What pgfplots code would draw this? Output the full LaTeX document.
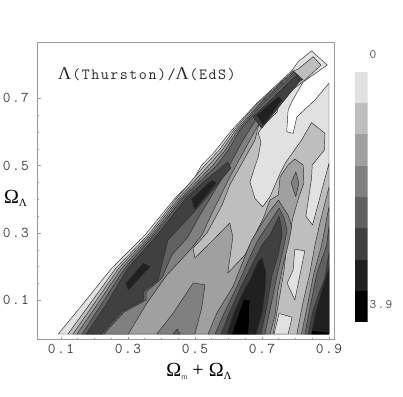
\documentclass[border=0pt]{standalone}
\usepackage{fontspec}
\setmainfont{Liberation Serif}
\newfontfamily\tickf[LetterSpace=10]{Latin Modern Mono}
\usepackage{pgfplots}
\pgfplotsset{compat=1.18}
\definecolor{c1}{HTML}{E1E1E1}
\definecolor{c2}{HTML}{BEBEBE}
\definecolor{c3}{HTML}{A0A0A0}
\definecolor{c4}{HTML}{808080}
\definecolor{c5}{HTML}{606060}
\definecolor{c6}{HTML}{404040}
\definecolor{c7}{HTML}{202020}
\definecolor{c8}{HTML}{000000}
\definecolor{lc}{HTML}{2A2A2A}
\definecolor{fr}{HTML}{9A9A9A}
\newcommand\poly[2]{\addplot[fill=#1,draw=lc,line width=.45pt,line join=round,mark=none] coordinates {#2} --cycle;}
\newcommand\band[2]{\addplot[fill=#1,draw=none,mark=none] coordinates {#2} --cycle;}
\begin{document}
\begin{tikzpicture}
\path[use as bounding box] (-37.5pt,-56.5pt) rectangle (365.5pt,339.5pt);
\begin{axis}[
 at={(0pt,0pt)},anchor=south west,scale only axis,width=296.5pt,height=297pt,
 xmin=.03,xmax=.915,ymin=-.0163,ymax=.866,
 xtick={.1,.3,.5,.7,.9},xticklabels={0.1,0.3,0.5,0.7,0.9},
 ytick={.1,.3,.5,.7},yticklabels={0.1,0.3,0.5,0.7},
 minor tick num=3,tick align=inside,xtick pos=bottom,ytick pos=left,
 major tick length=3pt,minor tick length=1.8pt,
 tick style={color=fr,line width=.6pt},
 axis line style={color=fr,line width=.9pt},
 tick label style={font=\tickf\fontsize{15}{15}\selectfont,text=black!75},
 xticklabel style={yshift=-1pt},
 yticklabel style={xshift=-5pt},
 clip=false]
% lightest
\poly{c1}{(.092,0)(.167,.091)(.251,.195)(.351,.294)(.440,.403)(.495,.457)(.520,.502)(.555,.537)(.610,.606)(.684,.685)(.789,.782)(.808,.809)(.848,.841)(.895,.799)(.823,.749)(.789,.690)(.778,.665)(.774,.601)(.793,.596)(.804,.645)(.858,.695)(.900,.745)(.900,0)}
% level 2
\poly{c2}{(.121,0)(.184,.086)(.264,.196)(.360,.294)(.446,.404)(.530,.502)(.572,.546)(.616,.606)(.688,.686)(.793,.781)(.808,.787)(.853,.824)(.876,.799)(.828,.754)(.784,.720)(.754,.695)(.745,.659)(.700,.615)(.689,.596)(.697,.570)(.689,.527)(.664,.452)(.679,.403)(.702,.378)(.724,.408)(.754,.477)(.769,.507)(.818,.576)(.848,.628)(.888,.596)(.886,.546)(.850,.502)(.848,.462)(.831,.350)(.851,.324)(.900,.507)(.900,0)}
\poly{c1}{(.798,.252)(.828,.247)(.798,.101)(.775,.151)(.793,.190)}
\poly{c1}{(.751,.061)(.790,.050)(.778,0)(.736,0)}
% level 3
\poly{c3}{(.136,0)(.196,.086)(.273,.196)(.366,.294)(.452,.404)(.542,.502)(.581,.546)(.622,.606)(.694,.686)(.794,.781)(.822,.756)(.775,.728)(.745,.704)(.733,.665)(.691,.624)(.679,.576)(.604,.443)(.581,.383)(.536,.300)(.494,.255)(.500,.226)(.554,.279)(.604,.330)(.613,.288)(.598,.181)(.649,.235)(.679,.294)(.704,.344)(.724,.398)(.749,.413)(.754,.467)(.778,.502)(.798,.520)(.823,.502)(.825,.448)(.808,.400)(.793,.348)(.774,.264)(.766,.190)(.751,.101)(.733,0)}
\poly{c3}{(.804,0)(.822,.092)(.843,.181)(.858,.264)(.873,.330)(.900,.437)(.900,0)}
\poly{c4}{(.818,0)(.837,.092)(.855,.181)(.878,.264)(.900,.378)(.900,0)}
\poly{c5}{(.828,0)(.846,.092)(.864,.181)(.893,.264)(.900,.319)(.900,0)}
\poly{c6}{(.838,0)(.852,.068)(.868,.116)(.888,.166)(.900,.241)(.900,0)}
\poly{c7}{(.848,0)(.861,.066)(.878,.126)(.900,.196)(.900,0)}
\band{c8}{(.849,.009)(.900,.003)(.900,0)(.849,0)}
\poly{c4}{(.801,.482)(.810,.448)(.801,.408)(.787,.449)}
\poly{c4}{(.386,0)(.435,.062)(.495,.152)(.530,.146)(.520,.077)(.500,0)}
\poly{c5}{(.435,0)(.447,.015)(.455,0)}
% valley
\poly{c4}{(.539,0)(.565,.062)(.613,.140)(.649,.230)(.669,.279)(.719,.359)(.749,.398)(.778,.353)(.789,.319)(.778,.264)(.763,.205)(.748,.131)(.739,.056)(.724,0)}
\poly{c5}{(.560,0)(.587,.062)(.625,.140)(.664,.229)(.688,.279)(.724,.333)(.751,.374)(.766,.345)(.775,.309)(.763,.249)(.745,.175)(.727,.086)(.709,0)}
\poly{c6}{(.578,0)(.602,.062)(.637,.140)(.670,.205)(.700,.264)(.724,.294)(.751,.350)(.757,.324)(.760,.294)(.748,.235)(.730,.175)(.715,.086)(.697,0)}
\poly{c7}{(.596,0)(.616,.062)(.643,.122)(.667,.166)(.688,.214)(.700,.226)(.712,.184)(.709,.131)(.700,.062)(.682,0)}
\poly{c8}{(.610,0)(.644,.101)(.664,.101)(.660,0)}
% ridge
\poly{c4}{(.148,0)(.207,.086)(.282,.196)(.372,.294)(.458,.404)(.554,.502)(.590,.546)(.628,.606)(.697,.686)(.795,.778)(.819,.757)(.769,.731)(.730,.680)(.700,.641)(.664,.576)(.604,.466)(.551,.359)(.521,.294)(.485,.249)(.416,.175)(.356,.091)(.301,0)}
\poly{c5}{(.163,0)(.219,.086)(.291,.196)(.378,.294)(.464,.404)(.566,.502)(.599,.546)(.634,.606)(.703,.686)(.798,.775)(.816,.756)(.754,.719)(.718,.680)(.682,.636)(.643,.576)(.604,.502)(.560,.428)(.515,.353)(.479,.288)(.431,.235)(.401,.166)(.354,.125)(.354,.101)(.288,.065)(.228,0)}
\poly{c6}{(.175,0)(.234,.086)(.300,.196)(.387,.294)(.473,.404)(.521,.448)(.598,.511)(.607,.493)(.566,.443)(.494,.359)(.419,.279)(.390,.160)(.346,.126)(.346,.101)(.281,.066)(.221,0)}
\poly{c6}{(.674,.645)(.803,.769)(.815,.754)(.699,.611)}
\poly{c7}{(.749,.705)(.759,.695)(.704,.621)(.684,.650)}
\poly{c7}{(.550,.457)(.563,.448)(.500,.371)(.490,.400)}
\poly{c7}{(.346,.210)(.366,.200)(.301,.131)(.294,.151)}
\end{axis}
\begin{axis}[at={(317pt,17.5pt)},anchor=south west,scale only axis,width=13pt,height=250pt,
 xmin=0,xmax=1,ymin=0,ymax=8,hide axis]
\band{c1}{(0,7)(1,7)(1,8)(0,8)}
\band{c2}{(0,6)(1,6)(1,7)(0,7)}
\band{c3}{(0,5)(1,5)(1,6)(0,6)}
\band{c4}{(0,4)(1,4)(1,5)(0,5)}
\band{c5}{(0,3)(1,3)(1,4)(0,4)}
\band{c6}{(0,2)(1,2)(1,3)(0,3)}
\band{c7}{(0,1)(1,1)(1,2)(0,2)}
\band{c8}{(0,0)(1,0)(1,1)(0,1)}
\end{axis}
\node[text=black!70,font=\tickf\fontsize{13}{13}\selectfont] at (335.5pt,284.5pt) {0};
\node[text=black!70,font=\tickf\fontsize{13}{13}\selectfont] at (343.5pt,34.5pt) {3.9};
\node[anchor=west,inner sep=0pt,text=black!85] at (20.5pt,265pt) {\fontsize{18}{18}\selectfont Λ\hspace{1pt}{\tickf\fontsize{15.5}{15.5}\selectfont(Thurston)/}Λ\hspace{1pt}{\tickf\fontsize{15.5}{15.5}\selectfont(EdS)}};
\node[anchor=center,inner sep=0pt] at (161.5pt,-31.5pt) {\fontsize{20}{20}\selectfont Ω\raisebox{-3pt}{\fontsize{8}{8}\selectfont\color{black!70}m}\hspace{5pt}+\hspace{5pt}Ω\raisebox{-3pt}{\fontsize{11}{11}\selectfont Λ}};
\node[anchor=center,inner sep=0pt] at (-22pt,141.5pt) {\fontsize{20}{20}\selectfont Ω\raisebox{-3pt}{\fontsize{11}{11}\selectfont Λ}};
\end{tikzpicture}
\end{document}
